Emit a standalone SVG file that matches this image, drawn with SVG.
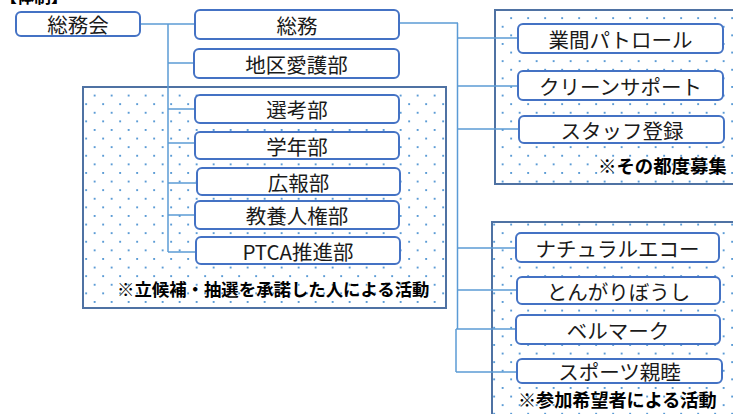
<svg xmlns="http://www.w3.org/2000/svg" width="733" height="414" viewBox="0 0 733 414">
<defs>
<pattern id="dots" patternUnits="userSpaceOnUse" x="0" y="0" width="17" height="17.2">
<rect x="0.2" y="0" width="1.9" height="1.9" fill="#5b9bd5"/>
<rect x="8.7" y="8.6" width="1.9" height="1.9" fill="#5b9bd5"/>
</pattern>
<style>
.area{fill:url(#dots);stroke:#4f72a3;stroke-width:2}
.node rect{fill:#ffffff;stroke:#4472c4;stroke-width:2}
.node text{font-family:"Noto Sans CJK JP","Noto Sans",sans-serif;font-size:20.5px;fill:#1a1a1a;text-anchor:middle;dominant-baseline:central}
.lbl{font-family:"Noto Sans CJK JP","Noto Sans",sans-serif;font-weight:bold;fill:#000;dominant-baseline:central}
.conn{fill:none;stroke:#5b9bd5;stroke-width:1.5}
</style>
</defs>
<rect width="733" height="414" fill="#ffffff"/>
<text class="lbl" x="0" y="-5" font-size="17">【体制】</text>

<g id="area-left">
<rect class="area" x="83" y="87" width="363" height="221"/>
<text class="lbl" x="117" y="288.5" font-size="17.4">※立候補・抽選を承諾した人による活動</text>
</g>
<g id="area-right-top">
<rect class="area" x="495" y="10" width="250" height="174"/>
<text class="lbl" x="598" y="164.5" font-size="18.4">※その都度募集</text>
</g>
<g id="area-right-bottom">
<rect class="area" x="492" y="222" width="250" height="200"/>
<text class="lbl" x="518" y="398.5" font-size="18.1">※参加希望者による活動</text>
</g>

<g id="connectors">
<polyline class="conn" points="140,24 195,24"/>
<line class="conn" x1="168" y1="24" x2="168" y2="252"/>
<line class="conn" x1="168" y1="63" x2="194" y2="63"/>
<line class="conn" x1="168" y1="109" x2="195" y2="109"/>
<line class="conn" x1="168" y1="143" x2="195" y2="143"/>
<line class="conn" x1="168" y1="183" x2="197" y2="183"/>
<line class="conn" x1="168" y1="215" x2="195" y2="215"/>
<line class="conn" x1="168" y1="252" x2="196" y2="252"/>
<line class="conn" x1="399" y1="23" x2="458" y2="23" stroke-width="2.5"/>
<line class="conn" x1="457.5" y1="23" x2="457.5" y2="329" stroke-width="3"/>
<line class="conn" x1="456" y1="329" x2="456" y2="372"/>
<line class="conn" x1="457" y1="38" x2="518" y2="38"/>
<line class="conn" x1="457" y1="86" x2="518" y2="86"/>
<line class="conn" x1="457" y1="129" x2="519" y2="129"/>
<line class="conn" x1="457" y1="248" x2="516" y2="248"/>
<line class="conn" x1="457" y1="290" x2="517" y2="290"/>
<line class="conn" x1="456" y1="329" x2="516" y2="329"/>
<line class="conn" x1="456" y1="372" x2="517" y2="372"/>
</g>

<g id="n-somukai" class="node"><rect x="16" y="12" width="124" height="24" rx="5"/><text x="78" y="24">総務会</text></g>
<g id="n-somu" class="node"><rect x="195" y="10" width="204" height="29" rx="5"/><text x="297" y="24.5">総務</text></g>
<g id="n-chiku" class="node"><rect x="194" y="49" width="205" height="29" rx="5"/><text x="296.5" y="63.5">地区愛護部</text></g>
<g id="n-senko" class="node"><rect x="195" y="95" width="204" height="28" rx="5"/><text x="297" y="109">選考部</text></g>
<g id="n-gakunen" class="node"><rect x="195" y="132" width="204" height="27" rx="5"/><text x="297" y="145.5">学年部</text></g>
<g id="n-koho" class="node"><rect x="197" y="168" width="203" height="27" rx="5"/><text x="298.5" y="181.5">広報部</text></g>
<g id="n-kyoyo" class="node"><rect x="195" y="201" width="204" height="28" rx="5"/><text x="297" y="215">教養人権部</text></g>
<g id="n-ptca" class="node"><rect x="196" y="237" width="204" height="27" rx="5"/><text x="298" y="250.5">PTCA推進部</text></g>
<g id="n-patrol" class="node"><rect x="518" y="24" width="205" height="29" rx="5"/><text x="620.5" y="38.5">業間パトロール</text></g>
<g id="n-clean" class="node"><rect x="518" y="71" width="205" height="29" rx="5"/><text x="620.5" y="85.5">クリーンサポート</text></g>
<g id="n-staff" class="node"><rect x="519" y="116" width="205" height="27" rx="5"/><text x="622" y="129.5">スタッフ登録</text></g>
<g id="n-eco" class="node"><rect x="516" y="233" width="203" height="29" rx="5"/><text x="617.5" y="247.5">ナチュラルエコー</text></g>
<g id="n-tongari" class="node"><rect x="517" y="277" width="203" height="27" rx="5"/><text x="618.5" y="290.5">とんがりぼうし</text></g>
<g id="n-bell" class="node"><rect x="516" y="315" width="204" height="29" rx="5"/><text x="618" y="329.5">ベルマーク</text></g>
<g id="n-sports" class="node"><rect x="517" y="359" width="205" height="24" rx="5"/><text x="619.5" y="371">スポーツ親睦</text></g>
</svg>
